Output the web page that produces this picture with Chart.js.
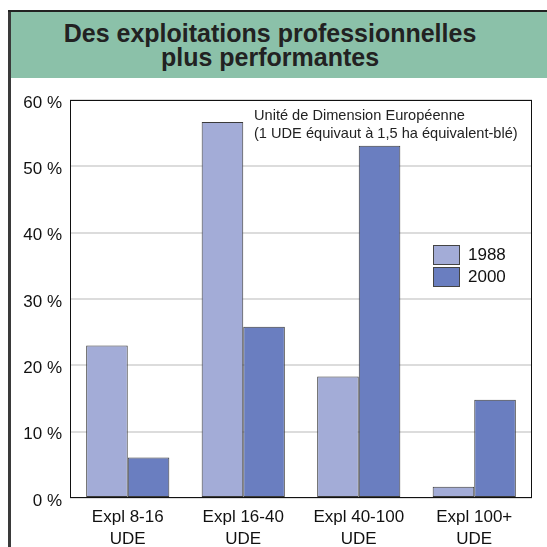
<!DOCTYPE html>
<html>
<head>
<meta charset="utf-8">
<script src="https://cdn.jsdelivr.net/npm/chart.js@4"></script>
<style>
    body { margin: 0; background: #fff; width: 547px; height: 547px; overflow: hidden; position: relative; }
    #chart { position: absolute; left: 0; top: 0; }
    #bord-gauche { position: absolute; left: 8px; top: 10px; width: 3px; height: 537px; background: #3a3a3a; }
    #bord-haut { position: absolute; left: 8px; top: 10px; width: 539px; height: 2px; background: #222; }
    #titre {
        position: absolute; left: 11px; top: 12px; width: 536px; height: 66px;
        background: #8bc1a9; box-sizing: border-box; padding: 9px 18px 0 0;
        font-family: "Liberation Sans", Arial, sans-serif; font-weight: bold;
        font-size: 25px; line-height: 24px; color: #222; text-align: center;
    }
</style>
</head>
<body>
<canvas id="chart" width="547" height="547"></canvas>
<div id="bord-gauche"></div>
<div id="bord-haut"></div>
<div id="titre">Des exploitations professionnelles<br>plus performantes</div>
<script>
const categories = [['Expl 8-16', 'UDE'], ['Expl 16-40', 'UDE'], ['Expl 40-100', 'UDE'], ['Expl 100+', 'UDE']];
const valeurs1988 = [23, 56.7, 18.3, 1.7];
const valeurs2000 = [6.1, 25.8, 53.1, 14.8];
const series = ['1988', '2000'];
const couleurs = ['#a3acd7', '#6a7ec0'];
const note = ['Unité de Dimension Européenne', '(1 UDE équivaut à 1,5 ha équivalent-blé)'];

const police = '"Liberation Sans", Arial, sans-serif';

// cadre, note et légende dessinés à la main
const decor = {
    id: 'decor',
    afterDatasetsDraw(chart) {
        const ctx = chart.ctx;
        const a = chart.chartArea;
        ctx.save();
        ctx.strokeStyle = '#111';
        ctx.lineWidth = 1;
        ctx.strokeRect(a.left + 0.5, a.top + 0.5, a.right - a.left - 1, a.bottom - a.top - 1);

        ctx.fillStyle = '#222';
        ctx.font = '14.6px ' + police;
        ctx.textBaseline = 'middle';
        ctx.fillText(note[0], 254, 116);
        ctx.fillText(note[1], 254, 134);

        chart.data.datasets.forEach((ds, i) => {
            const y = 245 + i * 22;
            ctx.fillStyle = ds.backgroundColor;
            ctx.fillRect(433, y, 27, 20);
            ctx.strokeStyle = '#444';
            ctx.strokeRect(433.5, y + 0.5, 26, 19);
            ctx.fillStyle = '#111';
            ctx.font = '17px ' + police;
            ctx.fillText(ds.label, 468, y + 10);
        });
        ctx.restore();
    }
};

new Chart(document.getElementById('chart'), {
    type: 'bar',
    data: {
        labels: categories,
        datasets: series.map((s, i) => ({
            label: s,
            data: i === 0 ? valeurs1988 : valeurs2000,
            backgroundColor: couleurs[i],
            borderColor: '#3a3a3a',
            borderWidth: 1,
            borderSkipped: false,
            categoryPercentage: 0.72,
            barPercentage: 1.0
        }))
    },
    options: {
        responsive: false,
        animation: false,
        layout: { padding: { top: 100, right: 15, left: 0, bottom: 0 } },
        plugins: { legend: { display: false }, tooltip: { enabled: false } },
        scales: {
            x: {
                grid: { display: false },
                border: { display: false },
                ticks: { color: '#111', font: { family: police, size: 17, lineHeight: 1.25 }, padding: 1, maxRotation: 0 },
                afterFit(scale) { scale.height = 49; }
            },
            y: {
                min: 0,
                max: 60,
                grid: { color: '#dcdcdc', lineWidth: 2, drawTicks: false },
                border: { display: false },
                ticks: {
                    stepSize: 10,
                    color: '#111',
                    font: { family: police, size: 17 },
                    padding: 8,
                    labelOffset: 3,
                    callback: v => v + ' %'
                },
                afterFit(scale) { scale.width = 70; }
            }
        }
    },
    plugins: [decor]
});
</script>
</body>
</html>
